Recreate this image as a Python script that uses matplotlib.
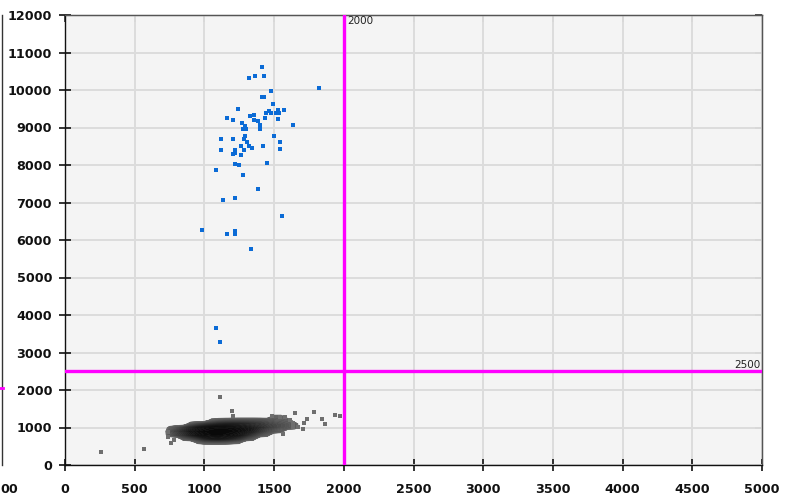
import numpy as np
import matplotlib
matplotlib.use("Agg")
import matplotlib.pyplot as plt
from matplotlib.colors import LinearSegmentedColormap

# ---------------- data ----------------
blue_x = [1412, 1363, 1320, 1427, 1822, 1476, 1412, 1427, 1491, 1242, 1462, 1526, 1569,
          1441, 1476, 1517, 1533, 1355, 1327, 1164, 1206, 1434, 1526, 1355, 1384, 1270,
          1398, 1633, 1292, 1277, 1299, 1398, 1292, 1498, 1284, 1121, 1206, 1306, 1540,
          1263, 1320, 1420, 1341, 1121, 1220, 1284, 1540, 1220, 1206, 1263, 1220, 1249,
          1448, 1085, 1277, 1384, 1135, 1220, 1555, 986, 1164, 1220, 1220, 1334, 1085, 1114]
blue_y = [10619, 10381, 10327, 10381, 10062, 9973, 9823, 9823, 9619, 9496, 9442, 9469, 9469,
          9389, 9389, 9389, 9389, 9327, 9301, 9265, 9212, 9265, 9239, 9212, 9186, 9124,
          9062, 9062, 9027, 8973, 8973, 8947, 8770, 8770, 8690, 8681, 8681, 8619, 8619,
          8504, 8504, 8504, 8442, 8389, 8389, 8389, 8416, 8327, 8292, 8265, 8035, 8000,
          8062, 7858, 7735, 7354, 7062, 7115, 6628, 6265, 6159, 6239, 6159, 5752, 3661, 3271]

gray_x = [258, 569, 1114, 1196, 1205, 741, 741, 758, 784, 1650, 1786, 1937, 1973, 1844,
          1865, 1733, 1712, 1707, 1564, 1482, 1542, 1578, 1614, 1638, 1674, 1638]
gray_y = [355, 427, 1805, 1448, 1307, 888, 739, 595, 667, 1387, 1413, 1333, 1298, 1235,
          1085, 1235, 1111, 968, 827, 1307, 1271, 1271, 1200, 1128, 1021, 1021]

# dense population: darkness per cell (rows = y centers, cols = x centers)
cloud_x = [750, 800, 850, 900, 950, 1000, 1050, 1100, 1150, 1200, 1250, 1300, 1350,
           1400, 1450, 1500, 1550, 1600, 1650]
cloud_y = [600, 700, 800, 900, 1000, 1100, 1200, 1300]
cloud_d = [
    [0, 0, 0, 0, 0.3, 0.4, 0.42, 0.42, 0.4, 0.35, 0.3, 0, 0, 0, 0, 0, 0, 0, 0],
    [0, 0, 0.4, 0.5, 0.62, 0.75, 0.82, 0.84, 0.8, 0.74, 0.65, 0.5, 0.38, 0, 0, 0, 0, 0, 0],
    [0.4, 0.55, 0.66, 0.78, 0.88, 0.95, 0.98, 0.99, 0.97, 0.93, 0.86, 0.74, 0.6, 0.45, 0.35, 0, 0, 0, 0],
    [0.45, 0.6, 0.74, 0.85, 0.93, 0.98, 1.0, 1.0, 1.0, 0.99, 0.95, 0.88, 0.78, 0.64, 0.52, 0.43, 0.35, 0, 0],
    [0.3, 0.45, 0.6, 0.72, 0.83, 0.9, 0.95, 0.97, 0.97, 0.95, 0.91, 0.86, 0.8, 0.72, 0.63, 0.55, 0.47, 0.42, 0.35],
    [0, 0, 0, 0.38, 0.5, 0.6, 0.66, 0.72, 0.75, 0.76, 0.75, 0.72, 0.68, 0.64, 0.58, 0.52, 0.47, 0.42, 0.35],
    [0, 0, 0, 0, 0, 0, 0.3, 0.38, 0.42, 0.44, 0.45, 0.45, 0.45, 0.44, 0.42, 0.4, 0.38, 0.35, 0],
    [0, 0, 0, 0, 0, 0, 0, 0, 0, 0, 0, 0, 0, 0, 0, 0.3, 0.3, 0, 0],
]

x_gate = 2000
y_gate = 2500
x_ticks = list(range(0, 5001, 500))
y_ticks = list(range(0, 12001, 1000))

# ---------------- figure ----------------
W, H = 790, 496
fig = plt.figure(figsize=(W / 100, H / 100), dpi=100)
fig.patch.set_facecolor("white")
ax = fig.add_axes([65 / W, (H - 465) / H, (762 - 65) / W, (465 - 15) / H])
ax.set_facecolor("#f4f4f4")

ax.set_xticks(x_ticks)
ax.set_yticks(y_ticks)
ax.grid(True, color="#dcdcdc", linewidth=1.4, zorder=0)
ax.set_axisbelow(True)

# dense cloud drawn as filled density contours
d = np.pad(np.array(cloud_d, dtype=float), 1)
cx = np.array(cloud_x, dtype=float)
cy = np.array(cloud_y, dtype=float)
cx = np.concatenate([[cx[0] - (cx[1] - cx[0])], cx, [cx[-1] + (cx[1] - cx[0])]])
cy = np.concatenate([[cy[0] - (cy[1] - cy[0])], cy, [cy[-1] + (cy[1] - cy[0])]])
X, Y = np.meshgrid(cx, cy)
cmap = LinearSegmentedColormap.from_list(
    "cloud", [(0.0, "#6c6c6c"), (0.25, "#575757"), (0.5, "#3a3a3a"), (0.75, "#1a1a1a"),
              (1.0, "#080808")])
levels = np.linspace(0.2, 1.01, 25)
cs = ax.contourf(X, Y, d, levels=levels, cmap=cmap, antialiased=True, zorder=2)
cs.set_edgecolor("face")
cs.set_linewidth(0.4)

ax.scatter(gray_x, gray_y, marker="s", s=8, color="#6e6e6e", linewidths=0, zorder=3)
ax.scatter(blue_x, blue_y, marker="s", s=8, color="#0b6bd6", linewidths=0, zorder=3)

ax.axvline(x_gate, color="#ff00ff", linewidth=2.4, zorder=4)
ax.axhline(y_gate, color="#ff00ff", linewidth=2.4, zorder=4)
ax.text(x_gate + 22, 11980, str(x_gate), fontsize=7.5, ha="left", va="top",
        color="#222222", zorder=5)
ax.text(4990, y_gate + 85, str(y_gate), fontsize=7.5, ha="right", va="baseline",
        color="#222222", zorder=5)

ax.set_xlim(0, 5000)
ax.set_ylim(0, 12000)

for s in ["left", "bottom"]:
    ax.spines[s].set_color("#111111")
    ax.spines[s].set_linewidth(1.0)
for s in ["top", "right"]:
    ax.spines[s].set_color("#555555")
    ax.spines[s].set_linewidth(1.0)

ax.tick_params(axis="both", direction="inout", length=9, width=1.2, color="#111111",
               labelsize=9.2, labelcolor="#111111")
for lab in ax.get_xticklabels() + ax.get_yticklabels():
    lab.set_fontweight("bold")
ax.tick_params(axis="x", pad=8.5)
ax.tick_params(axis="y", pad=4.8)

top = ax.secondary_xaxis("top")
top.set_xticks(x_ticks)
top.tick_params(direction="in", length=5, width=1.2, color="#333333", labeltop=False)
top.spines["top"].set_color("#555555")
right = ax.secondary_yaxis("right")
right.set_yticks(y_ticks)
right.tick_params(direction="in", length=5, width=1.2, color="#333333", labelright=False)
right.spines["right"].set_color("#555555")

# remnants of neighbouring panel at the left edge of the screenshot
fig.add_artist(plt.Line2D([1.5 / W, 1.5 / W], [(H - 465) / H, (H - 15) / H],
                          transform=fig.transFigure, color="#333333", linewidth=1))
fig.add_artist(plt.Line2D([0, 3 / W], [(H - 388) / H, (H - 388) / H],
                          transform=fig.transFigure, color="#ff00ff", linewidth=2))
fig.text(0, (H - 493) / H, "00", fontsize=9.2, fontweight="bold", ha="left",
         va="baseline", color="#111111")

fig.savefig("out.png", dpi=100)
